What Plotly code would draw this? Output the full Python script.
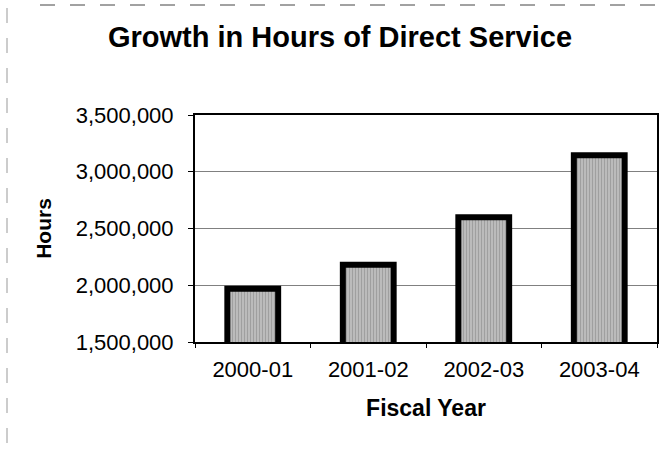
import plotly.graph_objects as go

categories = ["2000-01", "2001-02", "2002-03", "2003-04"]
hours = [1970000, 2180000, 2600000, 3145000]
y_ticks = [1500000, 2000000, 2500000, 3000000, 3500000]
y_tick_labels = ["1,500,000", "2,000,000", "2,500,000", "3,000,000", "3,500,000"]

fig = go.Figure(
    go.Bar(
        x=categories,
        y=hours,
        width=0.44,
        marker=dict(
            color="#a8a8a8",
            line=dict(color="black", width=6),
            pattern=dict(shape="|", fgcolor="#7a7a7a", bgcolor="#c4c4c4", size=3, solidity=0.5),
        ),
    )
)

FONT = "Liberation Sans, Arial, sans-serif"

fig.update_layout(
    width=666,
    height=450,
    margin=dict(l=195, r=9, t=115, b=108, autoexpand=False),
    paper_bgcolor="white",
    plot_bgcolor="white",
    showlegend=False,
    font=dict(family=FONT, color="black"),
    title=dict(
        text="<b>Growth in Hours of Direct Service</b>",
        font=dict(size=29, family=FONT, color="black"),
        x=340 / 666,
        xanchor="center",
        y=1 - 37 / 450,
        yanchor="middle",
        automargin=False,
    ),
)

fig.update_xaxes(
    type="category",
    automargin=False,
    showline=True, linecolor="black", linewidth=2, mirror=True,
    ticks="outside", ticklen=4, tickcolor="black", tickson="boundaries",
    tickfont=dict(size=22, family=FONT),
    ticklabelstandoff=7,
    title=dict(text="<b>Fiscal Year</b>", font=dict(size=23, family=FONT), standoff=18),
    showgrid=False,
)

fig.update_yaxes(
    range=[1500000, 3500000],
    automargin=False,
    tickvals=y_ticks,
    ticktext=y_tick_labels,
    showline=True, linecolor="black", linewidth=2, mirror=True,
    ticks="outside", ticklen=5, tickcolor="black",
    tickfont=dict(size=22, family=FONT),
    ticklabelstandoff=10,
    showgrid=True, gridcolor="#808080", gridwidth=1,
    zeroline=False,
    title=dict(text="<b>Hours</b>", font=dict(size=21, family=FONT), standoff=18),
)

# scan border artifacts
fig.add_shape(type="line", xref="paper", yref="paper",
              x0=(40 - 195) / 462, x1=(666 - 195) / 462,
              y0=(342 - 5) / 227, y1=(342 - 5) / 227,
              line=dict(color="#444", width=1, dash="longdash"))
fig.add_shape(type="line", xref="paper", yref="paper",
              x0=(7 - 195) / 462, x1=(7 - 195) / 462,
              y0=(342 - 8) / 227, y1=(342 - 445) / 227,
              line=dict(color="#999", width=1, dash="longdash"))

fig.write_html(
    "out.html",
    config={"displayModeBar": False},
    post_script="document.body.style.margin='0';document.body.style.padding='0';",
)
